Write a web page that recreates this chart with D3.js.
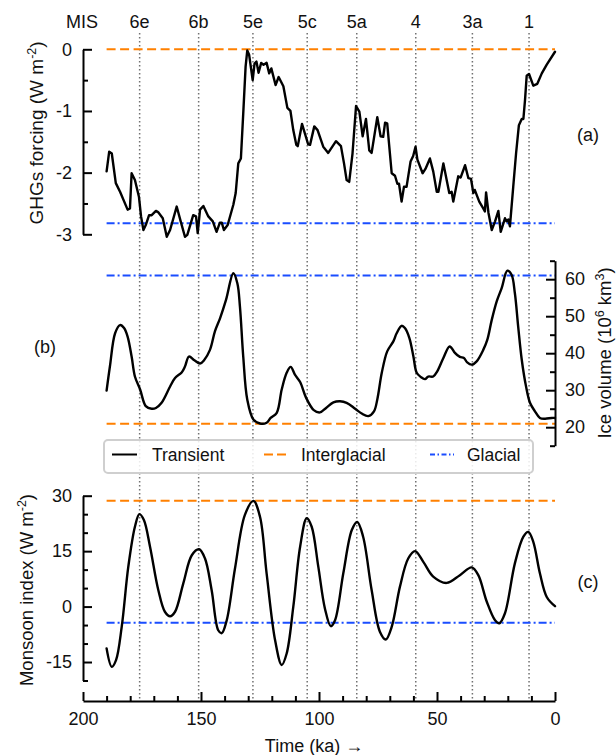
<!DOCTYPE html>
<html>
<head>
<meta charset="utf-8">
<script src="https://cdn.jsdelivr.net/npm/d3@7"></script>
<style>
  body { margin: 0; background: #fff; }
  text { font-family: "Liberation Sans", Arial, Helvetica, sans-serif; fill: #111; }
</style>
</head>
<body>
<svg id="chart" width="616" height="755"></svg>
<script>
// Marine isotope stages marked across all panels
const misLabels = ["6e", "6b", "5e", "5c", "5a", "4", "3a", "1"];
const misAges = [176, 151, 128, 105, 84, 59, 35, 11];

// (a) greenhouse-gas forcing, W m-2
const ghgAge = [190, 188.9, 187.8, 186.1, 184.3, 181.1, 180.1, 179.4, 178.0, 176.3, 175.4, 174.4, 173.4, 172.0, 170.9,
  169.1, 168.2, 166.2, 164.5, 163.1, 160.3, 158.6, 156.8, 155.8, 153.3, 152.1, 151.4, 150.4, 149.0, 146.9, 145.0,
  143.4, 142.0, 141.2, 140.3, 138.7, 136.3, 135.3, 134.2, 133.1, 132.1, 131.1, 130.4, 129.6, 128.1, 127.3, 126.5,
  125.6, 124.5, 123.5, 122.2, 121.1, 120.2, 118.4, 117.1, 115.1, 113.4, 112.1, 110.9, 109.6, 109.0, 107.2, 104.6,
  103.8, 102.0, 100.6, 98.2, 96.1, 92.8, 90.7, 89.4, 88.3, 87.2, 85.8, 84.3, 82.9, 81.5, 80.1, 78.7, 77.7, 75.3,
  73.9, 72.8, 72.0, 71.1, 69.2, 67.8, 66.8, 66.1, 65.0, 64.0, 62.9, 61.2, 60.1, 59.1, 58.3, 56.1, 54.9, 53.0, 51.6,
  50.1, 49.4, 47.3, 45.9, 44.8, 43.8, 43.1, 41.0, 40.0, 38.1, 36.7, 35.6, 34.6, 34.0, 32.1, 30.4, 29.7, 29.2, 28.2,
  26.8, 25.4, 24.0, 23.0, 21.2, 20.5, 19.8, 19.1, 17.7, 16.5, 15.3, 14.1, 13.4, 12.7, 12.0, 11.0, 9.2, 7.5, 5.6, 3.5, 0];
const ghgForcing = [-1.98, -1.66, -1.69, -2.17, -2.31, -2.60, -2.58, -2.01, -2.12, -2.39, -2.71, -2.93, -2.85, -2.69, -2.69,
  -2.62, -2.64, -2.74, -3.04, -2.93, -2.55, -2.79, -3.04, -3.01, -2.69, -2.71, -2.98, -2.60, -2.54, -2.71, -2.79,
  -2.96, -2.81, -2.81, -2.93, -2.85, -2.52, -2.33, -1.85, -1.77, -1.04, -0.28, -0.02, -0.09, -0.50, -0.23, -0.20,
  -0.38, -0.22, -0.25, -0.22, -0.39, -0.31, -0.58, -0.45, -0.60, -0.95, -1.00, -1.31, -1.55, -1.57, -1.21, -1.54,
  -1.55, -1.25, -1.31, -1.58, -1.68, -1.49, -1.57, -1.85, -2.12, -2.15, -1.69, -0.92, -1.01, -1.41, -1.13, -1.64, -1.68, -1.10,
  -1.41, -1.42, -1.19, -1.20, -2.01, -2.05, -2.18, -2.18, -2.47, -2.23, -2.23, -1.82, -1.73, -1.58, -1.79, -2.01, -1.94, -1.77, -1.98,
  -2.31, -2.31, -1.85, -2.12, -2.33, -2.31, -2.47, -2.06, -2.08, -1.88, -2.09, -2.10, -2.33, -2.28, -2.47, -2.58, -2.63, -2.32, -2.65,
  -2.93, -2.79, -2.62, -2.96, -2.74, -2.79, -2.76, -2.87, -2.23, -1.69, -1.23, -1.13, -1.13, -0.82, -0.43, -0.40, -0.59, -0.56, -0.39, -0.25, -0.04];

// (b) ice volume, 10^6 km^3
const iceAge = [190, 188.6, 186.4, 184.3, 182.6, 181.1, 179.4, 178.0, 175.8, 173.4, 170.9, 169.1, 166.7, 163.1, 161.0,
  158.2, 156.8, 155.1, 152.8, 150.4, 148.7, 146.2, 144.1, 141.9, 139.4, 136.3, 134.6, 133.5, 132.1, 130.4, 127.8,
  125.0, 122.2, 120.5, 117.9, 115.8, 113.7, 112.0, 110.2, 108.0, 105.5, 102.2, 99.6, 97.0, 93.9, 91.1, 88.3, 84.7,
  81.9, 79.1, 76.7, 75.3, 73.4, 71.1, 68.5, 67.1, 65.0, 63.6, 61.7, 60.0, 58.6, 56.9, 55.1, 53.7, 51.6, 49.9, 47.3,
  44.8, 43.8, 42.4, 40.3, 38.6, 37.2, 35.3, 33.2, 30.4, 28.7, 26.8, 24.7, 22.6, 20.2, 18.4, 17.0, 15.6, 14.1, 12.3,
  10.6, 8.5, 6.4, 4.2, 1.4, 0];
const iceVolume = [29.9, 36.4, 45.4, 47.6, 46.8, 44.5, 39.1, 33.7, 30.2, 25.7, 25.0, 25.2, 26.6, 31.0, 33.3,
  34.8, 36.4, 39.1, 38.1, 37.2, 38.1, 40.9, 45.9, 49.5, 54.4, 61.6, 58.9, 52.6, 39.1, 27.5, 22.1,
  21.0, 21.2, 22.5, 23.9, 30.2, 34.7, 36.3, 34.2, 32.2, 28.0, 24.6, 24.0, 25.2, 26.7, 27.0, 26.6, 25.0,
  23.7, 23.0, 24.3, 27.5, 34.7, 40.5, 43.2, 45.4, 47.4, 46.8, 44.1, 39.1, 34.7, 33.6, 33.0, 33.7, 33.7, 35.1, 38.7,
  41.8, 41.4, 40.1, 39.0, 38.7, 37.5, 36.9, 37.8, 40.9, 43.6, 49.0, 54.0, 57.6, 62.3, 61.2, 56.2, 47.2, 38.3, 31.1,
  26.6, 24.3, 22.5, 22.3, 22.5, 22.5];

// (c) monsoon index, W m-2
const monsoonAge = [190, 187.8, 186.0, 183.6, 180.8, 178.0, 176.1, 174.2, 171.6, 168.1, 165.3, 163.1, 161.0, 157.5,
  153.9, 150.8, 148.3, 145.5, 142.7, 141.2, 139.1, 135.6, 131.4, 127.8, 125.0, 122.2, 118.6, 115.8, 113.7, 110.9,
  108.0, 105.2, 103.1, 100.3, 97.5, 95.0, 93.2, 89.7, 86.1, 83.8, 81.3, 77.7, 74.2, 71.7, 69.2, 65.7, 62.2, 59.3,
  55.8, 51.6, 45.9, 40.3, 35.3, 32.5, 28.9, 25.4, 23.6, 21.2, 17.0, 13.4, 11.3, 9.2, 6.4, 3.5, 0];
const monsoonIndex = [-11.3, -16.3, -14.5, -5.5, 10.8, 21.6, 25.0, 23.4, 16.2, 4.5, -1.4, -2.6, -1.4, 6.3,
  13.9, 15.5, 13.0, 4.5, -6.4, -7.2, -3.7, 10.3, 24.8, 28.6, 24.3, 9.0, -9.1, -15.8, -12.7, -0.1,
  16.2, 23.9, 21.6, 10.8, -0.5, -5.3, -3.7, 9.0, 20.7, 22.9, 18.9, 4.5, -6.8, -8.9, -5.5, 5.4, 13.0, 15.0,
  12.1, 8.1, 6.4, 8.5, 10.6, 8.5, 1.3, -3.7, -4.5, -1.8, 11.7, 18.9, 20.2, 17.5, 9.0, 2.6, 0.1];

// Reference states per panel (a, b, c)
const interglacialLevel = [0, 20.9, 28.6];
const glacialLevel = [-2.82, 61.0, -4.35];

const legendLabels = ["Transient", "Interglacial", "Glacial"];
const timeTicks = [200, 150, 100, 50, 0];

const ORANGE = "#ff8000";
const BLUE = "#1a4dff";
const DASH_IG = "9,4.5";
const DASH_GL = "8,3,2,3";

const svg = d3.select("#chart");

const x = d3.scaleLinear().domain([200, 0]).range([83, 555]);
const yA = d3.scaleLinear().domain([-3, 0]).range([234.3, 49.3]);
const yB = d3.scaleLinear().domain([15, 65]).range([445.7, 260.7]);
const yC = d3.scaleLinear().domain([-20, 30]).range([680.5, 495.7]);

const dataStart = 190, dataEnd = 0;

// vertical dotted MIS guides
svg.append("g").selectAll("line").data(misAges).join("line")
  .attr("x1", d => x(d)).attr("x2", d => x(d))
  .attr("y1", 33).attr("y2", 700)
  .attr("stroke", "#707070").attr("stroke-width", 1.5)
  .attr("stroke-dasharray", "1.5,2.5");

svg.append("g").selectAll("text").data(misLabels).join("text")
  .attr("x", (d, i) => x(misAges[i])).attr("y", 28)
  .attr("text-anchor", "middle").attr("font-size", 18).text(d => d);
svg.append("text").attr("x", 82).attr("y", 28).attr("text-anchor", "middle")
  .attr("font-size", 18).text("MIS");

// horizontal reference levels
const scalesY = [yA, yB, yC];
scalesY.forEach((ys, i) => {
  svg.append("line").attr("x1", x(dataStart)).attr("x2", x(dataEnd))
    .attr("y1", ys(interglacialLevel[i])).attr("y2", ys(interglacialLevel[i]))
    .attr("stroke", ORANGE).attr("stroke-width", 2).attr("stroke-dasharray", DASH_IG);
  svg.append("line").attr("x1", x(dataStart)).attr("x2", x(dataEnd))
    .attr("y1", ys(glacialLevel[i])).attr("y2", ys(glacialLevel[i]))
    .attr("stroke", BLUE).attr("stroke-width", 2).attr("stroke-dasharray", DASH_GL);
});

// series
function drawSeries(ages, vals, ys, curve) {
  const line = d3.line().x(d => x(d[0])).y(d => ys(d[1])).curve(curve);
  svg.append("path").datum(ages.map((a, i) => [a, vals[i]]))
    .attr("d", line).attr("fill", "none").attr("stroke", "#000")
    .attr("stroke-width", 2.4).attr("stroke-linejoin", "round").attr("stroke-linecap", "round");
}
drawSeries(ghgAge, ghgForcing, yA, d3.curveLinear);
drawSeries(iceAge, iceVolume, yB, d3.curveCatmullRom.alpha(0.5));
drawSeries(monsoonAge, monsoonIndex, yC, d3.curveCatmullRom.alpha(0.5));

// axes helpers
function styleAxis(g) {
  g.selectAll(".domain").attr("stroke", "#000").attr("stroke-width", 2);
  g.selectAll(".tick line").attr("stroke", "#000").attr("stroke-width", 2);
  g.selectAll(".tick text").attr("font-size", 18).attr("fill", "#111")
    .attr("font-family", "Liberation Sans, Arial, sans-serif");
}
function range(a, b, s) { const r = []; for (let v = a; v <= b + 1e-9; v += s) r.push(+v.toFixed(3)); return r; }

// (a) left axis
const axA = svg.append("g").attr("transform", "translate(83,0)")
  .call(d3.axisLeft(yA).tickValues([-3, -2, -1, 0]).tickFormat(d => String(d))
    .tickSizeInner(-9).tickSizeOuter(0).tickPadding(11));
styleAxis(axA);
const axAm = svg.append("g").attr("transform", "translate(83,0)")
  .call(d3.axisLeft(yA).tickValues(range(-2.5, -0.5, 1)).tickFormat("").tickSize(-5));
axAm.select(".domain").remove(); styleAxis(axAm);

// (b) right axis
const axB = svg.append("g").attr("transform", "translate(555,0)")
  .call(d3.axisRight(yB).tickValues(range(20, 60, 10)).tickFormat(d => String(d))
    .tickSizeInner(-9).tickSizeOuter(0).tickPadding(10));
styleAxis(axB);
const axBm = svg.append("g").attr("transform", "translate(555,0)")
  .call(d3.axisRight(yB).tickValues(range(15, 65, 10)).tickFormat("").tickSize(-5));
axBm.select(".domain").remove(); styleAxis(axBm);

// (c) left axis
const axC = svg.append("g").attr("transform", "translate(83,0)")
  .call(d3.axisLeft(yC).tickValues([-15, 0, 15, 30]).tickFormat(d => String(d))
    .tickSizeInner(-9).tickSizeOuter(0).tickPadding(11));
styleAxis(axC);
const axCm = svg.append("g").attr("transform", "translate(83,0)")
  .call(d3.axisLeft(yC).tickValues([-20, -10, -5, 5, 10, 20, 25]).tickFormat("").tickSize(-5));
axCm.select(".domain").remove(); styleAxis(axCm);

// time axis
const axT = svg.append("g").attr("transform", "translate(0,701)")
  .call(d3.axisBottom(x).tickValues(timeTicks).tickFormat(d => String(d))
    .tickSizeInner(-9).tickSizeOuter(0).tickPadding(11));
styleAxis(axT);
const axTm = svg.append("g").attr("transform", "translate(0,701)")
  .call(d3.axisBottom(x).tickValues(range(0, 200, 10).filter(v => v % 50 !== 0)).tickFormat("").tickSize(-5));
axTm.select(".domain").remove(); styleAxis(axTm);

// axis titles
function sup(t, s) { t.append("tspan").attr("font-size", 12.5).attr("baseline-shift", "super").text(s); }
const tA = svg.append("text").attr("transform", "translate(43,133) rotate(-90)")
  .attr("text-anchor", "middle").attr("font-size", 19);
tA.append("tspan").text("GHGs forcing (W m"); sup(tA, "-2"); tA.append("tspan").text(")");

const tB = svg.append("text").attr("transform", "translate(611,353) rotate(-90)")
  .attr("text-anchor", "middle").attr("font-size", 18.5);
tB.append("tspan").text("Ice volume (10"); sup(tB, "6"); tB.append("tspan").text(" km"); sup(tB, "3"); tB.append("tspan").text(")");

const tC = svg.append("text").attr("transform", "translate(33,590) rotate(-90)")
  .attr("text-anchor", "middle").attr("font-size", 18.5);
tC.append("tspan").text("Monsoon index (W m"); sup(tC, "-2"); tC.append("tspan").text(")");

svg.append("text").attr("x", 314).attr("y", 752).attr("text-anchor", "middle")
  .attr("font-size", 18).text("Time (ka) \u2192");

// panel tags
svg.append("text").attr("x", 588).attr("y", 141).attr("text-anchor", "middle").attr("font-size", 18).text("(a)");
svg.append("text").attr("x", 45).attr("y", 353).attr("text-anchor", "middle").attr("font-size", 18).text("(b)");
svg.append("text").attr("x", 588).attr("y", 588).attr("text-anchor", "middle").attr("font-size", 18).text("(c)");

// legend
const lg = svg.append("g");
lg.append("rect").attr("x", 104).attr("y", 440).attr("width", 429).attr("height", 33).attr("rx", 4)
  .attr("fill", "#fff").attr("fill-opacity", 0.85).attr("stroke", "#cfcfcf").attr("stroke-width", 2);
const legendItems = [
  { x0: 112, x1: 137, tx: 152, stroke: "#000", dash: null },
  { x0: 264, x1: 289, tx: 301, stroke: ORANGE, dash: "9,4" },
  { x0: 430, x1: 454, tx: 467, stroke: BLUE, dash: "5,2.5,1.5,2.5" }
];
legendItems.forEach((it, i) => {
  lg.append("line").attr("x1", it.x0).attr("x2", it.x1).attr("y1", 454.5).attr("y2", 454.5)
    .attr("stroke", it.stroke).attr("stroke-width", 2).attr("stroke-dasharray", it.dash);
  lg.append("text").attr("x", it.tx).attr("y", 461).attr("font-size", 17.5).text(legendLabels[i]);
});
</script>
</body>
</html>
